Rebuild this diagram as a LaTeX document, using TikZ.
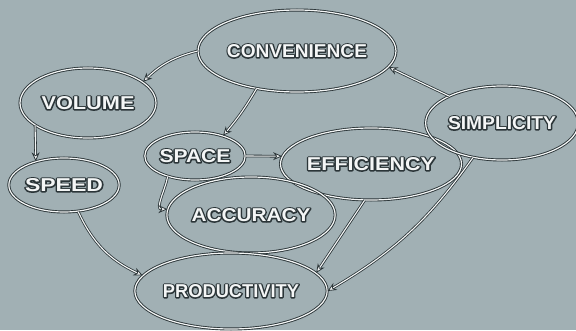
\documentclass[tikz,border=0pt]{standalone}
\usepackage{fontspec}
\setmainfont{Liberation Sans}
\usetikzlibrary{shapes.geometric,arrows.meta}
\definecolor{bg}{HTML}{A1B0B4}
\definecolor{ink}{HTML}{2B3538}
\definecolor{chalk}{HTML}{F4F6F6}
\newcommand{\chalktext}[2]{\resizebox{#1pt}{13pt}{\fontsize{16}{16}\selectfont\bfseries\rlap{\color{ink}\special{pdf:literal direct 2 Tr 2.2 w 1 j}#2\special{pdf:literal direct 0 Tr}}\color{chalk}#2}}
\begin{document}
\begin{tikzpicture}[x=1pt,y=1pt,
  bubble/.style={ellipse, draw=ink, double=chalk, line width=0.9pt, double distance=1.2pt, inner sep=0pt},
  link/.style={draw=ink, double=chalk, line width=0.8pt, double distance=1.1pt,
    -{Stealth[length=9pt,width=8pt,fill=chalk]}}]
\fill[bg] (0,0) rectangle (576,330);
\useasboundingbox (0,0) rectangle (576,330);
\node[bubble, minimum width=164pt, minimum height=82pt] (conv) at (297,279) {\chalktext{140}{CONVENIENCE}};
\node[bubble, minimum width=136pt, minimum height=70pt] (vol) at (88,227) {\chalktext{93}{VOLUME}};
\node[bubble, minimum width=108pt, minimum height=54pt] (speed) at (64,145) {\chalktext{78}{SPEED}};
\node[bubble, minimum width=96pt, minimum height=48pt] (space) at (195,174) {\chalktext{71}{SPACE}};
\node[bubble, minimum width=148pt, minimum height=72pt] (eff) at (371,166) {\chalktext{128}{EFFICIENCY}};
\node[bubble, minimum width=144pt, minimum height=76pt] (acc) at (251,115) {\chalktext{119}{ACCURACY}};
\node[bubble, minimum width=156pt, minimum height=76pt] (prod) at (231,39) {\chalktext{136}{PRODUCTIVITY}};
\node[bubble, minimum width=140pt, minimum height=74pt] (simp) at (502,207) {\chalktext{108}{SIMPLICITY}};
\draw[link] (conv.180) to[bend right=15] (vol.21);
\draw[link] (conv.223) to[bend left=5] (space.36);
\draw[link] (simp.153) -- (conv.-10);
\draw[link] (vol.203) -- (speed.140);
\draw[link] (space.0) -- (eff.175);
\draw[link] (space.217) to[out=-100,in=180] (acc.176);
\draw[link] (speed.-62) to[out=-65,in=155] (prod.170);
\draw[link] (eff.-100) -- (prod.12);
\draw[link] (simp.-130) to[bend left=12] (prod.0);
\end{tikzpicture}
\end{document}
